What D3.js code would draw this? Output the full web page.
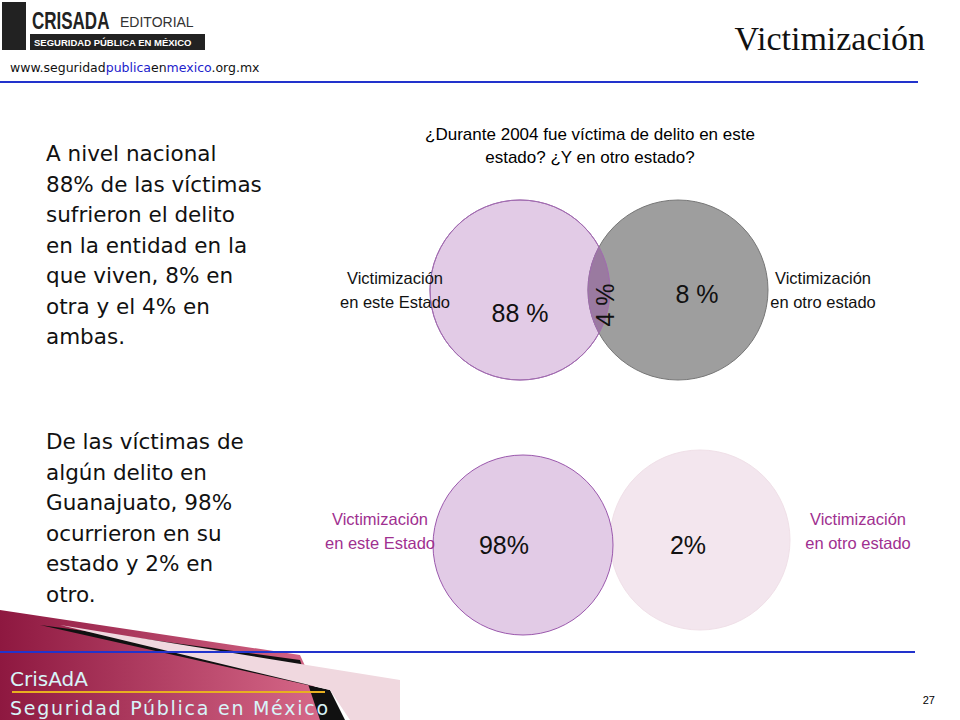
<!DOCTYPE html>
<html><head><meta charset="utf-8">
<script src="https://cdn.jsdelivr.net/npm/d3@7"></script>
<style>body{margin:0;background:#fff}svg{display:block}</style>
</head><body>
<svg id="c" width="960" height="720"></svg>
<script>
// data
var nationalLabels = ["88 %", "4 %", "8 %"];
var nationalValues = [88, 4, 8];
var gtoLabels = ["98%", "2%"];
var gtoValues = [98, 2];
var sideLabels = ["Victimización\nen este Estado", "Victimización\nen otro estado"];
var paraNacional = ["A nivel nacional", "88% de las víctimas", "sufrieron el delito", "en la entidad en la", "que viven, 8% en", "otra y el 4% en", "ambas."];
var paraGto = ["De las víctimas de", "algún delito en", "Guanajuato, 98%", "ocurrieron en su", "estado y 2% en", "otro."];

var svg = d3.select("#c");
var defs = svg.append("defs");
var g1 = defs.append("linearGradient").attr("id", "foot").attr("x1", 0).attr("y1", 0).attr("x2", 1).attr("y2", 0);
g1.append("stop").attr("offset", 0).attr("stop-color", "#8e1840");
g1.append("stop").attr("offset", 1).attr("stop-color", "#d86a8a");

// footer band
svg.append("path").attr("d", "M0,610 L300,655 L330,720 L0,720Z").attr("fill", "url(#foot)");
svg.append("path").attr("d", "M40,625 L330,690 L345,720 L320,720 L300,660Z").attr("fill", "#111");
svg.append("path").attr("d", "M60,625 L400,680 L400,720 L350,720 L330,690Z").attr("fill", "#f0d8df");
svg.append("line").attr("x1", 0).attr("x2", 915).attr("y1", 652).attr("y2", 652).attr("stroke", "#2233cc").attr("stroke-width", 2);
svg.append("line").attr("x1", 12).attr("x2", 325).attr("y1", 692).attr("y2", 692).attr("stroke", "#e8b020").attr("stroke-width", 2);
svg.append("text").attr("x", 10).attr("y", 686).text("CrisAdA").attr("font-family", "Comic Sans MS, DejaVu Sans").attr("font-size", 20).attr("fill", "#d8f4f8");
svg.append("text").attr("x", 10).attr("y", 715).text("Seguridad Pública en México").attr("textLength", 318).attr("font-family", "Comic Sans MS, DejaVu Sans").attr("font-size", 19).attr("fill", "#d8f4f8");
svg.append("text").attr("x", 935).attr("y", 704).attr("text-anchor", "end").text("27").attr("font-family", "Arial, Liberation Sans").attr("font-size", 11);

// header
svg.append("rect").attr("x", 2).attr("y", 2).attr("width", 24).attr("height", 48).attr("fill", "#222");
svg.append("text").attr("transform", "translate(32,29) scale(1,1.4)").text("CRISADA").attr("font-family", "Arial, Liberation Sans").attr("font-weight", "bold").attr("font-size", 17).attr("fill", "#222");
svg.append("text").attr("x", 120).attr("y", 27).text("EDITORIAL").attr("font-family", "Arial, Liberation Sans").attr("font-size", 14).attr("fill", "#333");
svg.append("rect").attr("x", 30).attr("y", 34).attr("width", 175).attr("height", 16).attr("fill", "#222");
svg.append("text").attr("x", 34).attr("y", 46).text("SEGURIDAD PÚBLICA EN MÉXICO").attr("font-family", "Arial, Liberation Sans").attr("font-weight", "bold").attr("font-size", 9.5).attr("fill", "#fff");
var url = svg.append("text").attr("x", 10).attr("y", 72).attr("font-family", "DejaVu Sans").attr("font-size", 12.5);
[["www.seguridad", "#111"], ["publica", "#2222cc"], ["en", "#111"], ["mexico", "#2222cc"], [".org.mx", "#111"]].forEach(function(p) {
  url.append("tspan").text(p[0]).attr("fill", p[1]);
});
svg.append("line").attr("x1", 0).attr("x2", 918).attr("y1", 82).attr("y2", 82).attr("stroke", "#2233cc").attr("stroke-width", 2);
svg.append("text").attr("x", 925).attr("y", 50).attr("text-anchor", "end").text("Victimización").attr("font-family", "Liberation Serif, Times New Roman").attr("font-size", 34).attr("fill", "#111");

// paragraphs
function para(lines, y0) {
  svg.append("g").selectAll("text").data(lines).join("text")
    .attr("x", 46).attr("y", function(d, i) { return y0 + i * 30.5; })
    .text(function(d) { return d; })
    .attr("font-family", "Century Gothic, DejaVu Sans").attr("font-size", 21.5).attr("fill", "#111");
}
para(paraNacional, 161);
para(paraGto, 449);

// question
svg.append("text").attr("x", 590).attr("y", 140).attr("text-anchor", "middle").text("¿Durante 2004 fue víctima de delito en este").attr("font-family", "Arial, Liberation Sans").attr("font-size", 17);
svg.append("text").attr("x", 590).attr("y", 163).attr("text-anchor", "middle").text("estado? ¿Y en otro estado?").attr("font-family", "Arial, Liberation Sans").attr("font-size", 17);

var x = d3.scaleLinear().domain([0, 1]).range([520, 678]);
var r = 90;

// top venn
var topG = svg.append("g");
var topCircles = [{i: 0, cy: 290, fill: "#e2cbe6", stroke: "#a16bb0"}, {i: 1, cy: 290, fill: "#9e9e9e", stroke: "#777"}];
topG.selectAll("circle").data(topCircles).join("circle")
  .attr("cx", function(d) { return x(d.i); }).attr("cy", function(d) { return d.cy; }).attr("r", r)
  .attr("fill", function(d) { return d.fill; }).attr("stroke", function(d) { return d.stroke; });
defs.append("clipPath").attr("id", "lc").append("circle").attr("cx", x(0)).attr("cy", 290).attr("r", r);
topG.append("circle").attr("cx", x(1)).attr("cy", 290).attr("r", r).attr("clip-path", "url(#lc)").attr("fill", "#9a7aa0").attr("stroke", "#a16bb0");
topG.append("circle").attr("cx", x(0)).attr("cy", 290).attr("r", r).attr("fill", "none").attr("stroke", "#a16bb0");

var tpos = [[x(0), 322, 0], [(x(0) + x(1)) / 2 + 15, 305, -90], [x(1) + 19, 303, 0]];
topG.selectAll("text.v").data(nationalLabels).join("text").attr("class", "v")
  .attr("transform", function(d, i) { return "translate(" + tpos[i][0] + "," + tpos[i][1] + ") rotate(" + tpos[i][2] + ")"; })
  .attr("text-anchor", "middle").text(function(d) { return d; })
  .attr("font-family", "Arial, Liberation Sans").attr("font-size", 25).attr("fill", "#111");

function sides(y, color, xl, xr) {
  sideLabels.forEach(function(s, i) {
    s.split("\n").forEach(function(line, k) {
      svg.append("text").attr("x", i ? xr : xl).attr("y", y + k * 24).attr("text-anchor", "middle").text(line)
        .attr("font-family", "Arial, Liberation Sans").attr("font-size", 16.5).attr("fill", color);
    });
  });
}
sides(284, "#111", 395, 823);

// bottom
var bx = d3.scaleLinear().domain([0, 1]).range([523, 700]);
var bot = svg.append("g");
var botCircles = [{fill: "#f3e6ee", stroke: "#f0e0e8", cy: 540, i: 1}, {fill: "#e2cbe6", stroke: "#9b59ad", cy: 545, i: 0}];
bot.selectAll("circle").data(botCircles).join("circle")
  .attr("cx", function(d) { return bx(d.i); }).attr("cy", function(d) { return d.cy; }).attr("r", r)
  .attr("fill", function(d) { return d.fill; }).attr("stroke", function(d) { return d.stroke; });
bot.selectAll("text").data(gtoLabels).join("text")
  .attr("x", function(d, i) { return i ? 688 : 504; }).attr("y", 554).attr("text-anchor", "middle").text(function(d) { return d; })
  .attr("font-family", "Arial, Liberation Sans").attr("font-size", 25).attr("fill", "#111");
sides(525, "#a03090", 380, 858);
</script>
</body></html>
